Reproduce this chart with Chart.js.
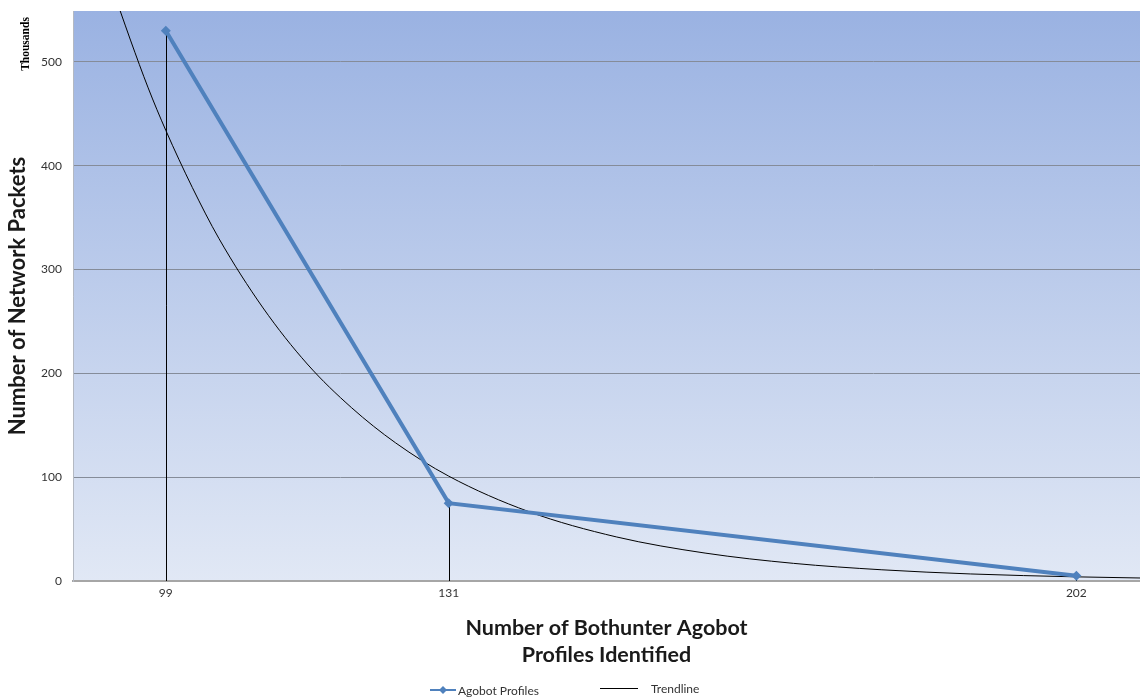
<!DOCTYPE html>
<html>
<head>
<meta charset="utf-8">
<title>Agobot Profiles</title>
<script src="https://cdn.jsdelivr.net/npm/chart.js@4.4.1/dist/chart.umd.min.js"></script>
<style>
  html, body { margin: 0; padding: 0; background: #ffffff; }
  #wrap { width: 1140px; height: 698px; position: relative; }
</style>
</head>
<body>
<div id="wrap"><canvas id="packetsChart" width="1140" height="698"></canvas></div>
<script>
// profiles identified vs network packets (thousands)
const profileCounts = [99, 131, 202];
const packetValues = [530, 75, 5];

// trendline (exponential fit drawn in the original)
const trendX = [93.8, 95, 97, 99, 102, 105, 110, 115, 120, 125, 131, 140, 150, 160, 170, 180, 190, 202, 209.2];
const trendY = [550, 521, 475, 434, 379, 330, 263, 209, 167, 133, 101, 67, 42.4, 26.9, 17, 10.8, 6.8, 4, 2.9];

const xTicks = [99, 131, 202];
const yTicks = [0, 100, 200, 300, 400, 500];

const BLUE = '#4f81bd';
const FONT = 'Lato, "Open Sans", sans-serif';

// gradient fill behind the plot
const plotBackground = {
    id: 'plotBackground',
    beforeDraw(chart) {
        const { ctx, chartArea: a } = chart;
        const g = ctx.createLinearGradient(0, a.top, 0, a.bottom);
        g.addColorStop(0, '#9ab2e2');
        g.addColorStop(1, '#e1e8f5');
        ctx.save();
        ctx.fillStyle = g;
        ctx.fillRect(a.left, a.top, a.right - a.left, a.bottom - a.top);
        ctx.restore();
    }
};

// vertical drop lines from each point to the x axis
const dropLines = {
    id: 'dropLines',
    beforeDatasetsDraw(chart) {
        const { ctx, scales } = chart;
        const meta = chart.getDatasetMeta(0);
        ctx.save();
        ctx.strokeStyle = '#000000';
        ctx.lineWidth = 1;
        meta.data.forEach(pt => {
            const x = Math.round(pt.x) + 0.5;
            ctx.beginPath();
            ctx.moveTo(x, pt.y);
            ctx.lineTo(x, scales.y.getPixelForValue(0));
            ctx.stroke();
        });
        ctx.restore();
    }
};

// "Thousands" unit label and the bottom legend
const extras = {
    id: 'extras',
    afterDraw(chart) {
        const { ctx } = chart;
        ctx.save();
        ctx.fillStyle = '#000000';
        ctx.font = 'bold 11.5px "Liberation Serif", serif';
        ctx.translate(26, 44);
        ctx.rotate(-Math.PI / 2);
        ctx.textAlign = 'center';
        ctx.textBaseline = 'middle';
        ctx.fillText('Thousands', 0, 0);
        ctx.restore();

        const ds = chart.data.datasets;
        const ly = 690;
        ctx.save();
        ctx.font = '12px ' + FONT;
        ctx.textBaseline = 'middle';
        ctx.fillStyle = '#333333';

        // series entry: line + diamond
        ctx.strokeStyle = ds[0].borderColor;
        ctx.lineWidth = 2;
        ctx.beginPath();
        ctx.moveTo(430, ly);
        ctx.lineTo(456, ly);
        ctx.stroke();
        ctx.fillStyle = ds[0].pointBackgroundColor;
        ctx.beginPath();
        ctx.moveTo(443, ly - 4);
        ctx.lineTo(447, ly);
        ctx.lineTo(443, ly + 4);
        ctx.lineTo(439, ly);
        ctx.closePath();
        ctx.fill();
        ctx.fillStyle = '#333333';
        ctx.fillText(ds[0].label, 458, ly + 1);

        // trendline entry
        ctx.strokeStyle = ds[1].borderColor;
        ctx.lineWidth = 1;
        ctx.beginPath();
        ctx.moveTo(600, ly - 1.5);
        ctx.lineTo(638, ly - 1.5);
        ctx.stroke();
        ctx.fillText(ds[1].label, 651, ly - 1);
        ctx.restore();
    }
};

new Chart(document.getElementById('packetsChart'), {
    type: 'line',
    data: {
        datasets: [{
            label: 'Agobot Profiles',
            data: profileCounts.map((x, i) => ({ x: x, y: packetValues[i] })),
            borderColor: BLUE,
            borderWidth: 4,
            pointStyle: 'rectRot',
            pointRadius: 5,
            pointBackgroundColor: BLUE,
            pointBorderColor: BLUE,
            pointBorderWidth: 0,
            tension: 0,
            order: 0
        }, {
            label: 'Trendline',
            data: trendX.map((x, i) => ({ x: x, y: trendY[i] })),
            borderColor: '#000000',
            borderWidth: 1,
            pointRadius: 0,
            cubicInterpolationMode: 'monotone',
            order: 1
        }]
    },
    options: {
        responsive: false,
        animation: false,
        layout: { autoPadding: false, padding: { top: 11, right: 0, left: 0, bottom: 0 } },
        plugins: {
            legend: { display: false },
            tooltip: { enabled: false }
        },
        scales: {
            x: {
                type: 'linear',
                min: 88.5,
                max: 209.2,
                afterBuildTicks: s => { s.ticks = xTicks.map(v => ({ value: v })); },
                afterFit: s => { s.height = 117; s.paddingLeft = 0; s.paddingRight = 0; },
                grid: { display: false, drawTicks: false },
                border: { color: '#a6a6a6', width: 2 },
                ticks: {
                    padding: 5,
                    color: '#333333',
                    font: { family: FONT, size: 12 },
                    maxRotation: 0,
                    autoSkip: false
                },
                title: {
                    display: true,
                    text: ['Number of Bothunter Agobot', 'Profiles Identified'],
                    color: '#1a1a1a',
                    font: { family: FONT, size: 21.5, weight: 'bold', lineHeight: 1.27 },
                    padding: { top: 0, bottom: 29 }
                }
            },
            y: {
                type: 'linear',
                min: 0,
                max: 549,
                afterBuildTicks: s => { s.ticks = yTicks.map(v => ({ value: v })); },
                afterFit: s => { s.width = 73; s.paddingTop = 0; s.paddingBottom = 0; },
                grid: { color: '#858c99', lineWidth: 1, drawTicks: false },
                border: { color: '#b4b9c2', width: 1 },
                ticks: {
                    padding: 11,
                    color: '#333333',
                    font: { family: FONT, size: 12 }
                },
                title: {
                    display: true,
                    text: 'Number of Network Packets',
                    color: '#1a1a1a',
                    font: { family: FONT, size: 22, weight: 'bold', lineHeight: 1.2 },
                    padding: { top: 5, bottom: 0 }
                }
            }
        }
    },
    plugins: [plotBackground, dropLines, extras]
});
</script>
</body>
</html>
